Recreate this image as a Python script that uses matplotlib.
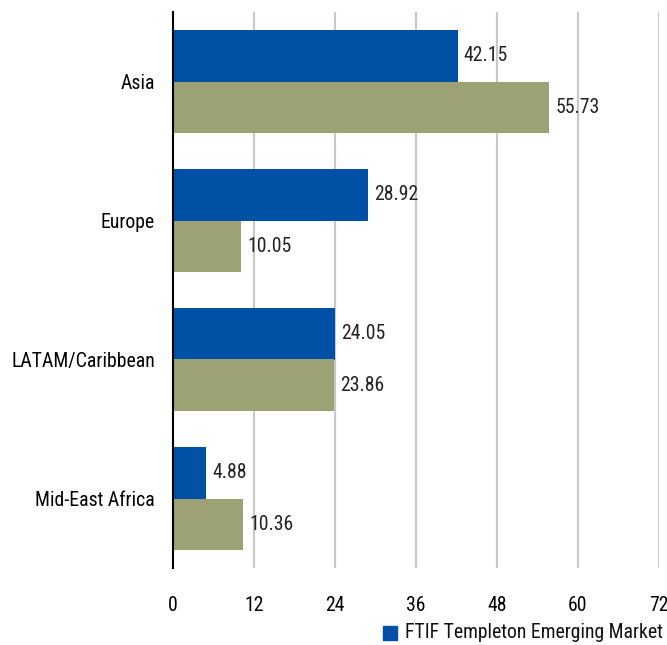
import matplotlib
matplotlib.use("Agg")
import matplotlib.pyplot as plt
import numpy as np

categories = ["Asia", "Europe", "LATAM/Caribbean", "Mid-East Africa"]
fund_values = [42.15, 28.92, 24.05, 4.88]
bench_values = [55.73, 10.05, 23.86, 10.36]
x_ticks = [0, 12, 24, 36, 48, 60, 72]
legend_label = "FTIF Templeton Emerging Market"

plt.rcParams['font.family'] = ['Roboto Condensed', 'Liberation Sans', 'DejaVu Sans']
FS = 14.2

blue = "#0050A5"
olive = "#9CA274"

fig = plt.figure(figsize=(6.67, 6.45), dpi=100)
ax = fig.add_axes([173/667, 1-568/645, (659-173)/667, (568-12)/645])

y = np.arange(len(categories))
h = 0.374
ax.barh(y - h/2, fund_values, height=h, color=blue, zorder=3)
ax.barh(y + h/2, bench_values, height=h, color=olive, zorder=3)

for yi, v in zip(y - h/2, fund_values):
    ax.annotate(f"{v:.2f}", (v, yi), xytext=(4.5, 0), textcoords="offset points",
                va="center", ha="left", fontsize=FS, color="#222222")
for yi, v in zip(y + h/2, bench_values):
    ax.annotate(f"{v:.2f}", (v, yi), xytext=(4.5, 0), textcoords="offset points",
                va="center", ha="left", fontsize=FS, color="#222222")

ax.set_xlim(0, 72)
ax.set_ylim(3.5, -0.5)
ax.set_xticks(x_ticks)
ax.set_xticklabels([str(t) for t in x_ticks], fontsize=FS)
ax.set_yticks(y)
ax.set_yticklabels(categories, fontsize=FS)
ax.tick_params(axis="both", length=0)
ax.tick_params(axis="x", pad=20)
ax.tick_params(axis="y", pad=13)
ax.grid(axis="x", color="#C8C8C8", linewidth=1.5, zorder=0)
for s in ["top", "right", "bottom"]:
    ax.spines[s].set_visible(False)
ax.spines["left"].set_color("black")
ax.spines["left"].set_linewidth(1.5)
ax.spines["left"].set_zorder(4)

# legend (only the first series visible, as in the reference)
fig.patches.append(plt.Rectangle((383/667, 1-640/645), 14/667, 14/645,
                                 transform=fig.transFigure, color=blue, figure=fig))
fig.text(405/667, 1-633/645, legend_label, fontsize=FS, va="center", ha="left", color="#111111")

fig.savefig("out.png", dpi=100)
